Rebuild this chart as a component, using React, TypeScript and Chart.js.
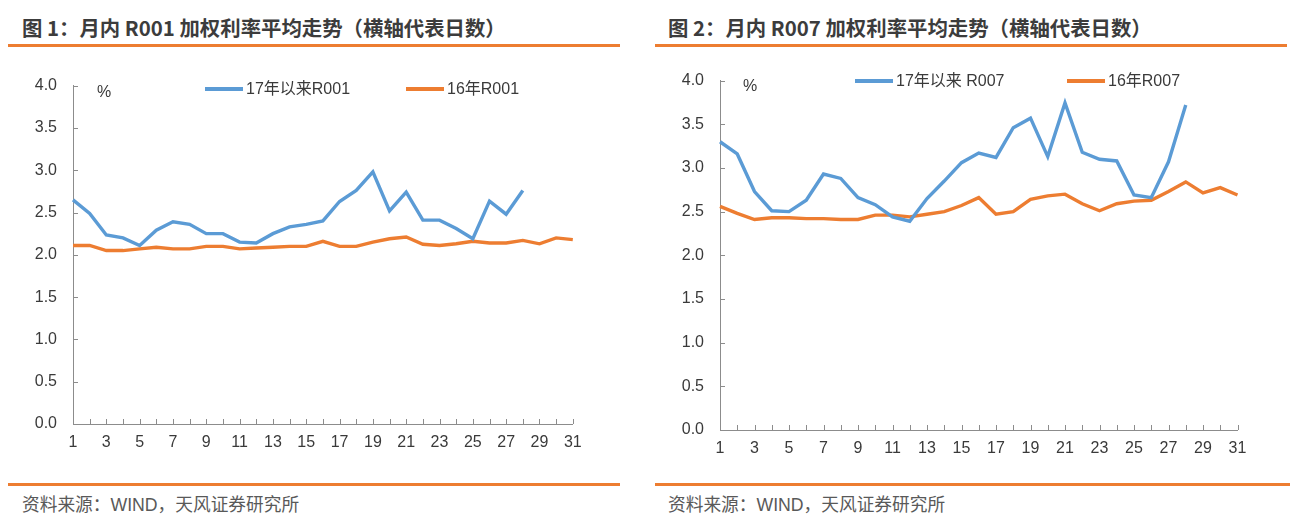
import React, { useEffect, useRef } from 'react';
import { Chart, registerables } from 'chart.js';

Chart.register(...registerables);

// ---------- data ----------
const days = ['1','2','3','4','5','6','7','8','9','10','11','12','13','14','15','16','17','18','19','20','21','22','23','24','25','26','27','28','29','30','31'];

const r001Since17 = [2.65, 2.49, 2.235, 2.2, 2.11, 2.29, 2.39, 2.36, 2.25, 2.25, 2.15, 2.14, 2.25, 2.33, 2.36, 2.4, 2.63, 2.76, 2.98, 2.52, 2.74, 2.41, 2.41, 2.31, 2.19, 2.635, 2.48, 2.76];
const r001In16 = [2.11, 2.11, 2.05, 2.05, 2.07, 2.09, 2.07, 2.07, 2.1, 2.1, 2.07, 2.08, 2.09, 2.1, 2.1, 2.16, 2.1, 2.1, 2.15, 2.19, 2.21, 2.125, 2.11, 2.13, 2.16, 2.14, 2.14, 2.17, 2.13, 2.2, 2.18];

const r007Since17 = [3.3, 3.16, 2.73, 2.51, 2.5, 2.63, 2.93, 2.88, 2.66, 2.58, 2.44, 2.39, 2.65, 2.85, 3.06, 3.17, 3.12, 3.46, 3.57, 3.13, 3.745, 3.18, 3.1, 3.08, 2.69, 2.66, 3.07, 3.72];
const r007In16 = [2.56, 2.48, 2.41, 2.43, 2.43, 2.42, 2.42, 2.41, 2.41, 2.46, 2.46, 2.44, 2.47, 2.5, 2.57, 2.66, 2.47, 2.5, 2.64, 2.68, 2.7, 2.59, 2.51, 2.59, 2.62, 2.63, 2.73, 2.84, 2.715, 2.775, 2.69];

const legend1 = ['17年以来R001', '16年R001'];
const legend2 = ['17年以来 R007', '16年R007'];
const titles = ['图 1：月内 R001 加权利率平均走势（横轴代表日数）', '图 2：月内 R007 加权利率平均走势（横轴代表日数）'];
const sourceText = '资料来源：WIND，天风证券研究所';

// ---------- style ----------
const BLUE = '#5B9BD5';
const ORANGE = '#ED7D31';
const AXIS = '#8c8c8c';
const TEXT = '#3a3a3a';
const FONT = '"Liberation Sans", Arial, "Noto Sans CJK SC", sans-serif';

const innerTicks = {
  id: 'innerTicks',
  beforeDatasetsDraw(chart: any) {
    const { ctx } = chart;
    const x = chart.scales.x;
    const y = chart.scales.y;
    ctx.save();
    ctx.strokeStyle = AXIS;
    ctx.lineWidth = 1;
    ctx.beginPath();
    y.ticks.forEach((_t: any, i: number) => {
      const py = Math.round(y.getPixelForTick(i)) + 0.5;
      ctx.moveTo(x.left, py);
      ctx.lineTo(x.left + 5, py);
    });
    x.ticks.forEach((_t: any, i: number) => {
      const px = Math.round(x.getPixelForTick(i)) + 0.5;
      ctx.moveTo(px, y.bottom);
      ctx.lineTo(px, y.bottom - 5);
    });
    ctx.stroke();
    ctx.restore();
  },
};

type LineChartProps = {
  blue: number[];
  orange: number[];
  names: string[];
  width: number;
  height: number;
  yAxisWidth: number;
  xAxisHeight: number;
  padTop: number;
  padRight: number;
  labelPad: number;
};

function LineChart(p: LineChartProps) {
  const ref = useRef<HTMLCanvasElement | null>(null);
  useEffect(() => {
    if (!ref.current) return;
    const chart = new Chart(ref.current, {
      type: 'line',
      data: {
        labels: days,
        datasets: [
          { label: p.names[0], data: p.blue, borderColor: BLUE, backgroundColor: BLUE, borderWidth: 3.4, pointRadius: 0, tension: 0, fill: false },
          { label: p.names[1], data: p.orange, borderColor: ORANGE, backgroundColor: ORANGE, borderWidth: 3.4, pointRadius: 0, tension: 0, fill: false },
        ],
      },
      options: {
        animation: false,
        responsive: false,
        layout: { padding: { left: 0, top: p.padTop, right: p.padRight, bottom: 0 } },
        plugins: { legend: { display: false }, tooltip: { enabled: false }, title: { display: false } },
        scales: {
          x: {
            type: 'category',
            offset: false,
            grid: { display: true, drawOnChartArea: false, drawTicks: false },
            border: { display: true, color: AXIS, width: 1 },
            ticks: {
              autoSkip: false,
              maxRotation: 0,
              padding: p.labelPad,
              color: TEXT,
              font: { family: FONT, size: 16 },
              callback: (_v: any, i: number) => (i % 2 === 0 ? days[i] : ''),
            },
            afterFit: (s: any) => { s.height = p.xAxisHeight; },
          },
          y: {
            min: 0,
            max: 4,
            grid: { display: true, drawOnChartArea: false, drawTicks: false },
            border: { display: true, color: AXIS, width: 1 },
            ticks: {
              stepSize: 0.5,
              padding: 16,
              color: TEXT,
              font: { family: FONT, size: 16 },
              callback: (v: any) => Number(v).toFixed(1),
            },
            afterFit: (s: any) => { s.width = p.yAxisWidth; },
          },
        },
      },
      plugins: [innerTicks],
    } as any);
    return () => chart.destroy();
  }, []);
  return <canvas ref={ref} width={p.width} height={p.height} style={{ width: p.width, height: p.height, display: 'block' }} />;
}

function Legend({ names, x1, x2, y }: { names: string[]; x1: number; x2: number; y: number }) {
  const item = (name: string, color: string, x: number) => (
    <div style={{ position: 'absolute', left: x, top: y - 10, height: 20, display: 'flex', alignItems: 'center', whiteSpace: 'nowrap' }}>
      <span style={{ display: 'inline-block', width: 38, height: 4, background: color, marginRight: 3 }} />
      <span style={{ fontFamily: FONT, fontSize: 16, color: TEXT, lineHeight: '20px' }}>{name}</span>
    </div>
  );
  return (
    <>
      {item(names[0], BLUE, x1)}
      {item(names[1], ORANGE, x2)}
    </>
  );
}

export default function App() {
  const abs = (s: React.CSSProperties): React.CSSProperties => ({ position: 'absolute', ...s });
  const titleStyle: React.CSSProperties = { fontFamily: '"Noto Sans CJK SC", sans-serif', fontWeight: 700, fontSize: 20.4, lineHeight: '24px', color: '#3c3c3c', whiteSpace: 'nowrap' };
  const srcStyle: React.CSSProperties = { fontFamily: '"Liberation Sans", "Noto Sans CJK SC", sans-serif', fontSize: 17.7, lineHeight: '22px', color: '#595959', whiteSpace: 'nowrap' };
  return (
    <div style={{ position: 'absolute', left: 0, top: 0, width: 1307, height: 529, background: '#fff', overflow: 'hidden' }}>
      {/* left panel */}
      <div style={abs({ left: 22, top: 15, ...titleStyle })}>{titles[0]}</div>
      <div style={abs({ left: 8, top: 44, width: 612, height: 3, background: ORANGE })} />
      <div style={abs({ left: 0, top: 60 })}>
        <LineChart blue={r001Since17} orange={r001In16} names={legend1} width={640} height={410} yAxisWidth={73} xAxisHeight={46} padTop={22.7} padRight={67.2} labelPad={9} />
      </div>
      <div style={abs({ left: 97, top: 82, fontFamily: FONT, fontSize: 16, color: TEXT, lineHeight: '20px' })}>%</div>
      <Legend names={legend1} x1={205} x2={406} y={89} />
      <div style={abs({ left: 8, top: 483, width: 612, height: 3, background: ORANGE })} />
      <div style={abs({ left: 22, top: 494, ...srcStyle })}>{sourceText}</div>

      {/* right panel */}
      <div style={abs({ left: 668, top: 15, ...titleStyle })}>{titles[1]}</div>
      <div style={abs({ left: 655, top: 44, width: 632, height: 3, background: ORANGE })} />
      <div style={abs({ left: 650, top: 55 })}>
        <LineChart blue={r007Since17} orange={r007In16} names={legend2} width={640} height={415} yAxisWidth={70} xAxisHeight={40} padTop={21.7} padRight={52.5} labelPad={9} />
      </div>
      <div style={abs({ left: 743, top: 76, fontFamily: FONT, fontSize: 16, color: TEXT, lineHeight: '20px' })}>%</div>
      <Legend names={legend2} x1={855} x2={1067} y={81} />
      <div style={abs({ left: 655, top: 483, width: 635, height: 3, background: ORANGE })} />
      <div style={abs({ left: 668, top: 494, ...srcStyle })}>{sourceText}</div>
    </div>
  );
}
